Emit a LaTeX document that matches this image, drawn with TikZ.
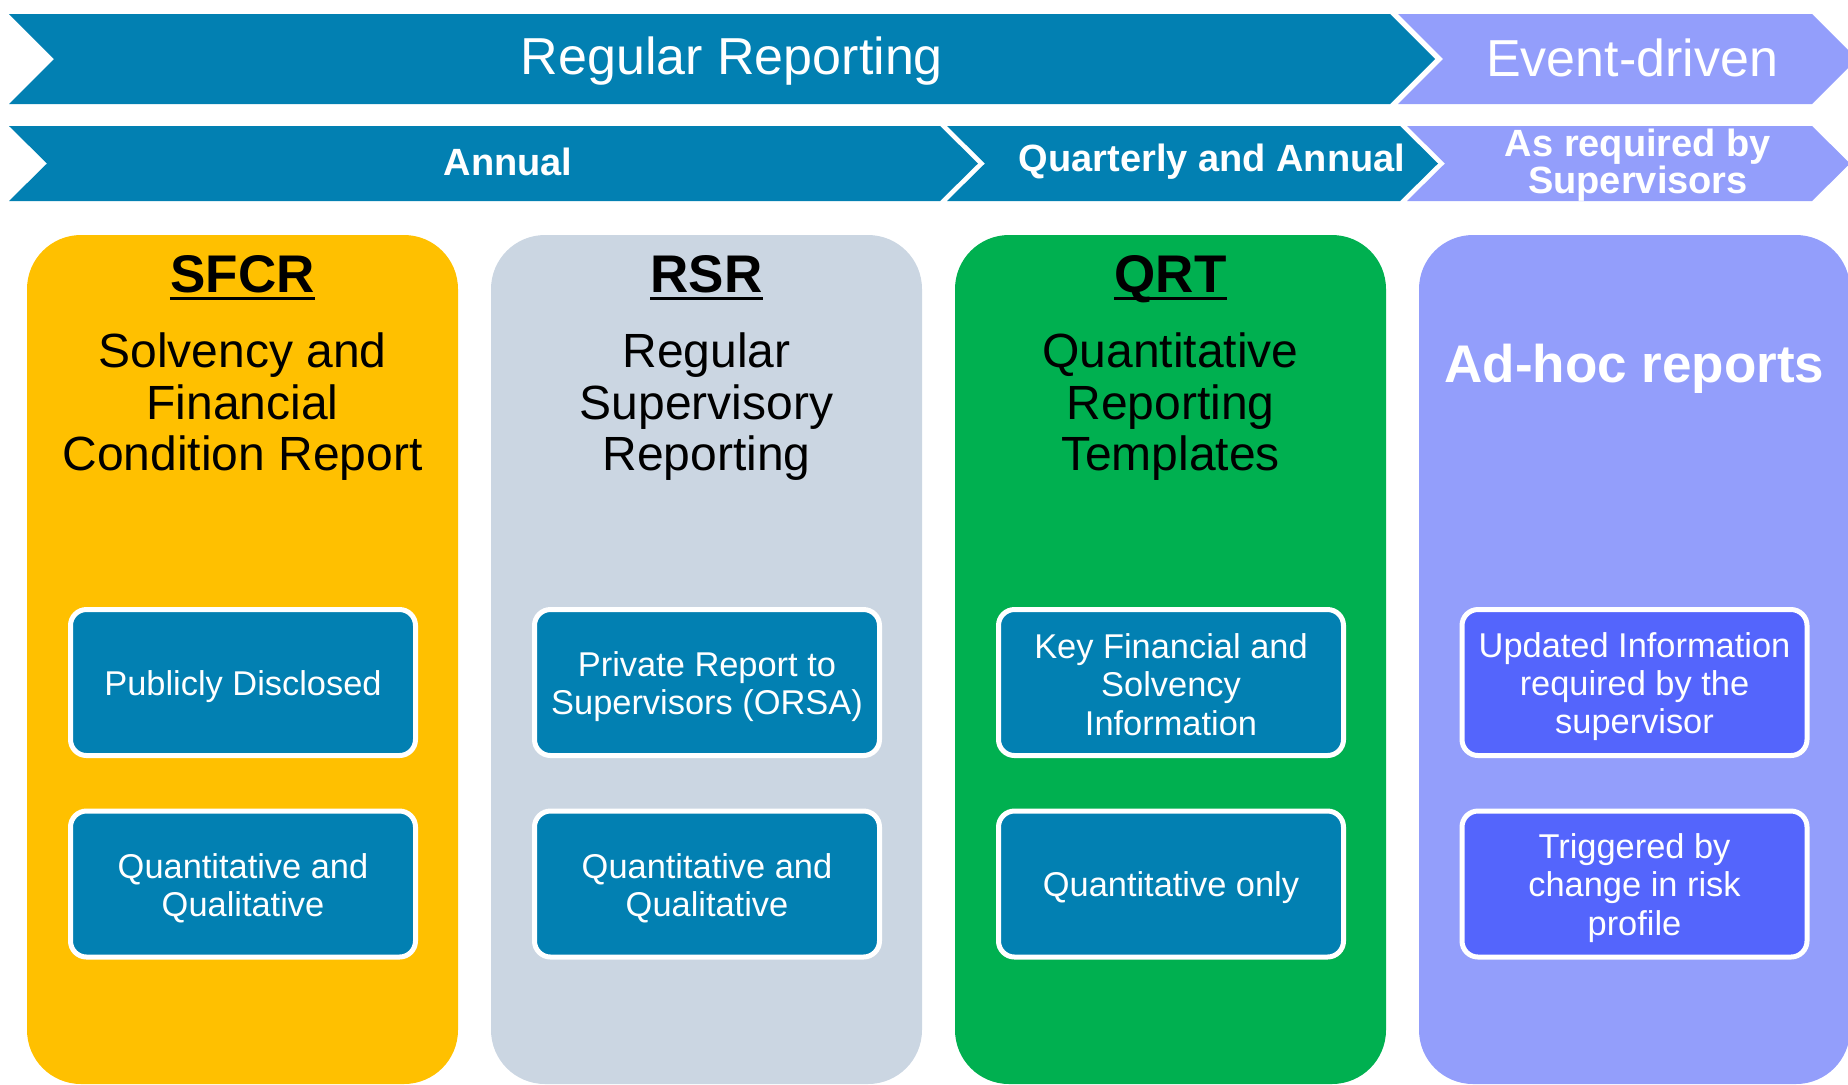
\documentclass[tikz,border=0pt]{standalone}
\usepackage{fontspec}
\setmainfont{Liberation Sans}
\definecolor{arrowblue}{RGB}{2,128,178}
\definecolor{lav}{RGB}{147,158,251}
\definecolor{sfcrcol}{RGB}{255,192,0}
\definecolor{rsrcol}{RGB}{203,214,226}
\definecolor{qrtcol}{RGB}{0,176,80}
\definecolor{adhocbox}{RGB}{84,101,252}
\begin{document}
\begin{tikzpicture}[x=0.5pt,y=-0.5pt,
  toptext/.style={text=white, inner sep=0pt, font=\fontsize{26pt}{28pt}\selectfont},
  midtext/.style={text=white, inner sep=0pt, align=center, font=\fontsize{19pt}{18.8pt}\selectfont\bfseries},
  headtext/.style={text=black, inner sep=0pt, font=\fontsize{26.5pt}{28pt}\selectfont\bfseries},
  subtext/.style={text=black, inner sep=0pt, align=center, font=\fontsize{24pt}{25.75pt}\selectfont},
  infobox/.style={draw=white, line width=2.5pt, rounded corners=8pt, minimum width=172.5pt, minimum height=73pt, inner sep=0pt},
  boxtext/.style={text=white, align=center, inner sep=0pt, font=\fontsize{17.2pt}{19.1pt}\selectfont},
  colpanel/.style={rounded corners=27pt},
  uline/.style={line width=1.75pt, black}
]
\useasboundingbox (0,0) rectangle (1848,1084);
\clip (0,0) rectangle (1848,1084);

% top chevrons
\fill[arrowblue] (9,14) -- (1390,14) -- (1435,59) -- (1390,104) -- (9,104) -- (54,59) -- cycle;
\fill[lav] (1398,14) -- (1812,14) -- (1857,59) -- (1812,104) -- (1398,104) -- (1443,59) -- cycle;
\fill[arrowblue] (9,126) -- (940,126) -- (978,163.5) -- (940,201) -- (9,201) -- (47,163.5) -- cycle;
\fill[arrowblue] (947,126) -- (1400,126) -- (1438,163.5) -- (1400,201) -- (947,201) -- (985,163.5) -- cycle;
\fill[lav] (1407,126) -- (1812,126) -- (1850,163.5) -- (1812,201) -- (1407,201) -- (1445,163.5) -- cycle;

\node[toptext] (tRR) at (732,61) {Regular Reporting};
\node[toptext] (tED) at (1632,58) {Event-driven};
\node[midtext] (tAN) at (508,162) {Annual};
\node[midtext] (tQA) at (1212,162) {Quarterly and Annual};
\node[midtext] (tAR) at (1638,165) {As required by\\Supervisors};

% columns
\fill[sfcrcol, colpanel] (27,235) rectangle (458,1084);
\fill[rsrcol, colpanel] (491,235) rectangle (922,1084);
\fill[qrtcol, colpanel] (955,235) rectangle (1386,1084);
\fill[lav, colpanel] (1419,235) rectangle (1850,1084);

% headings
\node[headtext, anchor=base] (h1) at (242.5,292) {SFCR};
\node[headtext, anchor=base] (h2) at (706.5,292) {RSR};
\node[headtext, anchor=base] (h3) at (1170.5,292) {QRT};
\draw[uline] ([yshift=-3.25pt]h1.base west) -- ([yshift=-3.25pt]h1.base east);
\draw[uline] ([yshift=-3.25pt]h2.base west) -- ([yshift=-3.25pt]h2.base east);
\draw[uline] ([yshift=-3.25pt]h3.base west) -- ([yshift=-3.25pt]h3.base east);

\node[subtext] (s1) at (242.5,407) {Solvency and\\Financial\\Condition Report};
\node[subtext] (s2) at (706.5,407) {Regular\\Supervisory\\Reporting};
\node[subtext] (s3) at (1170.5,407) {Quantitative\\Reporting\\Templates};
\node[headtext, text=white, anchor=base] (h4) at (1634.5,382) {Ad-hoc reports};

% info boxes
\node[infobox, fill=arrowblue] (b11) at (243,682.5) {};
\node[infobox, fill=arrowblue] (b12) at (243,884) {};
\node[infobox, fill=arrowblue] (b21) at (707,682.5) {};
\node[infobox, fill=arrowblue] (b22) at (707,884) {};
\node[infobox, fill=arrowblue] (b31) at (1171,682.5) {};
\node[infobox, fill=arrowblue] (b32) at (1171,884) {};
\node[infobox, fill=adhocbox] (b41) at (1634.5,682.5) {};
\node[infobox, fill=adhocbox] (b42) at (1634.5,884) {};

\node[boxtext] (t11) at ([yshift=-2pt]b11.center) {Publicly Disclosed};
\node[boxtext] (t12) at ([yshift=-2pt]b12.center) {Quantitative and\\Qualitative};
\node[boxtext] (t21) at ([yshift=-2pt]b21.center) {Private Report to\\Supervisors (ORSA)};
\node[boxtext] (t22) at ([yshift=-2pt]b22.center) {Quantitative and\\Qualitative};
\node[boxtext] (t31) at ([yshift=-1pt]b31.center) {Key Financial and\\Solvency\\Information};
\node[boxtext] (t32) at ([yshift=-2pt]b32.center) {Quantitative only};
\node[boxtext] (t41) at ([yshift=-2pt]b41.center) {Updated Information\\required by the\\supervisor};
\node[boxtext] (t42) at ([yshift=-2pt]b42.center) {Triggered by\\change in risk\\profile};
\end{tikzpicture}
\end{document}
